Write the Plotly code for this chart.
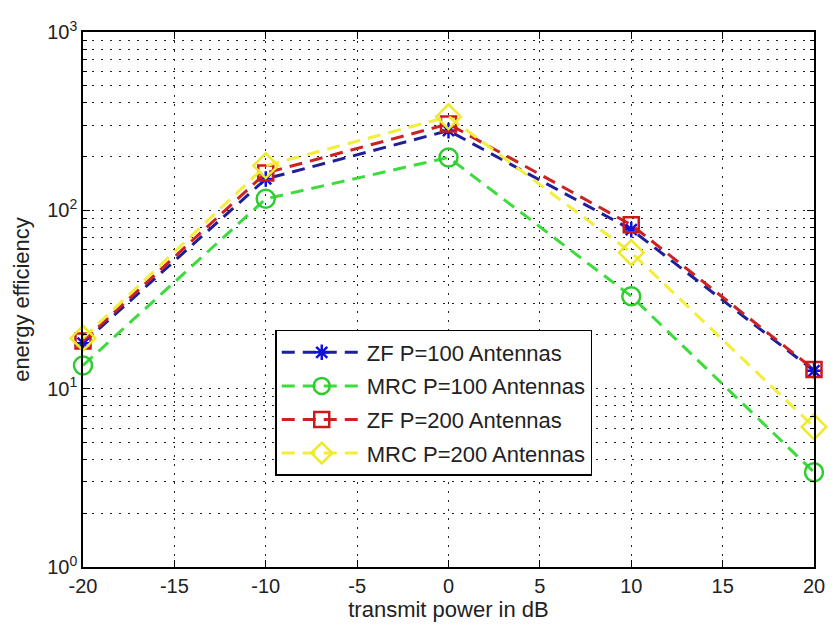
import plotly.graph_objects as go

# transmit power (dB)
power_db = [-20, -10, 0, 10, 20]

# energy efficiency per receiver / antenna count
zf_100 = [18.0, 150, 280, 78, 12.6]
mrc_100 = [13.5, 116, 198, 33, 3.4]
zf_200 = [18.5, 162, 305, 83, 12.8]
mrc_200 = [19.2, 178, 335, 58, 6.1]

series_names = ["ZF P=100 Antennas", "MRC P=100 Antennas",
                "ZF P=200 Antennas", "MRC P=200 Antennas"]

x_ticks = [-20, -15, -10, -5, 0, 5, 10, 15, 20]
x_tick_text = ["-20", "-15", "-10", "-5", "0", "5", "10", "15", "20"]
y_ticks = [1, 10, 100, 1000]
y_tick_text = ["10<sup>0</sup>", "10<sup>1</sup>", "10<sup>2</sup>", "10<sup>3</sup>"]
y_minor = [m * d for d in (1, 10, 100) for m in range(2, 10)]

FONT = "Liberation Sans"
DASH = "13px,8px"
GRID_DASH = "2px,7px"

styles = [
    dict(line="#1f1f99", marker="#1010e0", symbol="asterisk-open", size=13),
    dict(line="#3cdc3c", marker="#2ecc2e", symbol="circle-open", size=18),
    dict(line="#cc2222", marker="#cc1a1a", symbol="square-open", size=15),
    dict(line="#f2ee3a", marker="#eeea28", symbol="diamond-open", size=19),
]

fig = go.Figure()
for i, (name, vals, st) in enumerate(zip(series_names, [zf_100, mrc_100, zf_200, mrc_200], styles)):
    fig.add_trace(go.Scatter(
        x=power_db, y=vals, name=name, mode="lines+markers",
        legendgroup=f"g{i}", cliponaxis=False,
        line=dict(color=st["line"], width=3, dash=DASH),
        marker=dict(symbol=st["symbol"], size=st["size"], color=st["marker"],
                    line=dict(color=st["marker"], width=2.5)),
    ))

axis_common = dict(
    showline=True, linecolor="black", linewidth=1.5, mirror="ticks",
    ticks="inside", ticklen=7, tickcolor="black", tickwidth=1,
    showgrid=True, gridcolor="#222", gridwidth=1, griddash=GRID_DASH,
    zeroline=False,
    tickfont=dict(family=FONT, size=20, color="#222"),
    title_font=dict(family=FONT, size=22, color="#222"),
)

fig.update_xaxes(
    **axis_common, range=[-20, 20], tickvals=x_ticks, ticktext=x_tick_text,
    title_text="transmit power in dB", title_standoff=4,
)
fig.update_yaxes(
    **axis_common, type="log", range=[0, 3],
    tickvals=y_ticks, ticktext=y_tick_text,
    title_text="energy efficiency", title_standoff=12,
    minor=dict(tickvals=y_minor, ticks="inside", ticklen=4, tickcolor="black",
               showgrid=True, gridcolor="#222", gridwidth=1, griddash=GRID_DASH),
)

fig.update_layout(
    width=837, height=631,
    margin=dict(l=83, r=17, t=32, b=64),
    paper_bgcolor="white", plot_bgcolor="white",
    font=dict(family=FONT, size=18, color="#222"),
    legend=dict(
        x=0.263, y=0.443, xanchor="left", yanchor="top",
        bgcolor="white", bordercolor="black", borderwidth=1.5,
        font=dict(family=FONT, size=22, color="#222"),
        itemwidth=80, tracegroupgap=2,
    ),
)

fig.write_html("out.html")
